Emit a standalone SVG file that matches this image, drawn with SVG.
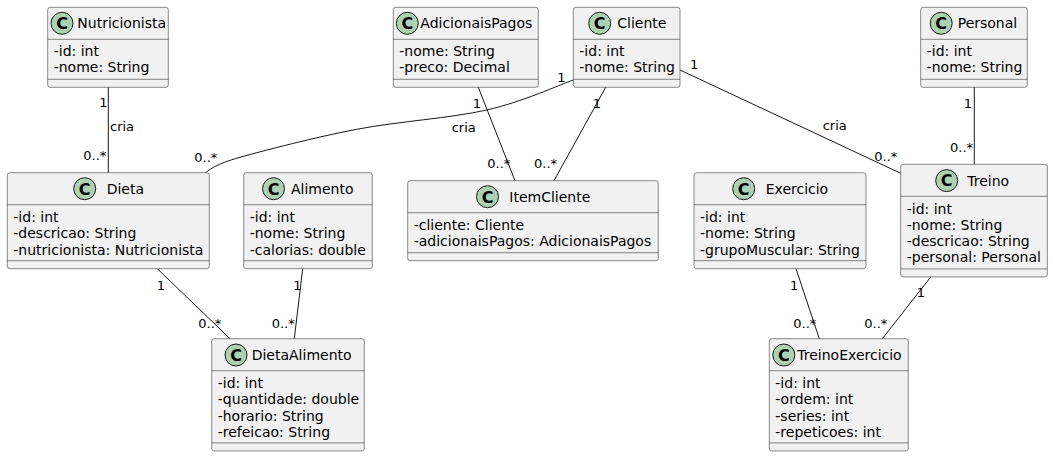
<svg xmlns="http://www.w3.org/2000/svg" width="1053" height="457" viewBox="0 0 1053 457">
<style>
.bg{fill:#FFFFFF}
.box{fill:#F1F1F1;stroke:#181818;stroke-width:0.5}
.sep{stroke:#181818;stroke-width:0.5}
.ic{fill:#ADD1B2;stroke:#181818;stroke-width:1}
.icl{font-family:"DejaVu Sans",sans-serif;font-size:16px;font-weight:bold;fill:#000000;text-anchor:middle}
.nm{font-family:"DejaVu Sans",sans-serif;font-size:14px;fill:#000000}
.at{font-family:"DejaVu Sans",sans-serif;font-size:14px;fill:#000000}
.lb{font-family:"DejaVu Sans",sans-serif;font-size:13px;fill:#000000}
.cn{fill:none;stroke:#181818;stroke-width:1}
</style>
<rect class="bg" x="0" y="0" width="1053" height="457"/>

<g id="connectors">
<path class="cn" d="M108.3,87.3 L108.3,172.7"/>
<path class="cn" d="M573.3,80 C558.9,85 522.8,101.8 486.7,110 C450.6,118.2 397.8,121.4 356.7,129.3 C315.6,137.2 265.3,150.2 240,157.3 C214.7,164.4 210.8,169.3 205.3,172.7"/>
<path class="cn" d="M680,70 L900.7,173.3"/>
<path class="cn" d="M974.3,87.3 L974.3,164.3"/>
<path class="cn" d="M478.3,87.3 L515,180.7"/>
<path class="cn" d="M605.7,87.3 L554,180.7"/>
<path class="cn" d="M157.3,268.7 L230,338.7"/>
<path class="cn" d="M302.7,268.7 L294.3,338.7"/>
<path class="cn" d="M796,268.7 L819.3,338.7"/>
<path class="cn" d="M930.7,277 L882.3,338.7"/>
<text class="lb" x="99.3" y="107.3">1</text>
<text class="lb" x="110" y="131">cria</text>
<text class="lb" x="83.3" y="160">0..*</text>
<text class="lb" x="557.3" y="81.7">1</text>
<text class="lb" x="451.7" y="132">cria</text>
<text class="lb" x="194.3" y="161.7">0..*</text>
<text class="lb" x="690" y="69.3">1</text>
<text class="lb" x="822.7" y="130">cria</text>
<text class="lb" x="874.3" y="161">0..*</text>
<text class="lb" x="963.7" y="108.3">1</text>
<text class="lb" x="950" y="151.7">0..*</text>
<text class="lb" x="472.7" y="107.7">1</text>
<text class="lb" x="487.3" y="168.3">0..*</text>
<text class="lb" x="592.7" y="107.7">1</text>
<text class="lb" x="534" y="168.3">0..*</text>
<text class="lb" x="156.7" y="290">1</text>
<text class="lb" x="198.3" y="328.3">0..*</text>
<text class="lb" x="293.3" y="290">1</text>
<text class="lb" x="271.7" y="328.3">0..*</text>
<text class="lb" x="790" y="290">1</text>
<text class="lb" x="793.3" y="328">0..*</text>
<text class="lb" x="916.7" y="297.3">1</text>
<text class="lb" x="864.3" y="328">0..*</text>
</g>

<g id="Nutricionista">
<rect class="box" x="47.7" y="7.3" width="120.6" height="80" rx="2.5"/>
<circle class="ic" cx="62" cy="23.3" r="11"/><text class="icl" x="62" y="29.1">C</text>
<text class="nm" x="77.3" y="28.3">Nutricionista</text>
<line class="sep" x1="47.7" y1="39.3" x2="168.3" y2="39.3"/>
<text class="at" x="53.7" y="56.1">-id: int</text>
<text class="at" x="53.7" y="72.4">-nome: String</text>
<line class="sep" x1="47.7" y1="79.3" x2="168.3" y2="79.3"/>
</g>

<g id="AdicionaisPagos">
<rect class="box" x="393.3" y="7.3" width="145" height="80" rx="2.5"/>
<circle class="ic" cx="407.3" cy="23.3" r="11"/><text class="icl" x="407.3" y="29.1">C</text>
<text class="nm" x="420.3" y="28.3">AdicionaisPagos</text>
<line class="sep" x1="393.3" y1="39.3" x2="538.3" y2="39.3"/>
<text class="at" x="399.3" y="56.1">-nome: String</text>
<text class="at" x="399.3" y="72.4">-preco: Decimal</text>
<line class="sep" x1="393.3" y1="79.3" x2="538.3" y2="79.3"/>
</g>

<g id="Cliente">
<rect class="box" x="573.3" y="7.3" width="106.7" height="80" rx="2.5"/>
<circle class="ic" cx="599.7" cy="23.3" r="11"/><text class="icl" x="599.7" y="29.1">C</text>
<text class="nm" x="617.3" y="28.3">Cliente</text>
<line class="sep" x1="573.3" y1="39.3" x2="680" y2="39.3"/>
<text class="at" x="579.3" y="56.1">-id: int</text>
<text class="at" x="579.3" y="72.4">-nome: String</text>
<line class="sep" x1="573.3" y1="79.3" x2="680" y2="79.3"/>
</g>

<g id="Personal">
<rect class="box" x="920.7" y="7.3" width="106.6" height="80" rx="2.5"/>
<circle class="ic" cx="941.2" cy="23.3" r="11"/><text class="icl" x="941.2" y="29.1">C</text>
<text class="nm" x="957.7" y="28.3">Personal</text>
<line class="sep" x1="920.7" y1="39.3" x2="1027.3" y2="39.3"/>
<text class="at" x="926.7" y="56.1">-id: int</text>
<text class="at" x="926.7" y="72.4">-nome: String</text>
<line class="sep" x1="920.7" y1="79.3" x2="1027.3" y2="79.3"/>
</g>

<g id="Dieta">
<rect class="box" x="7.3" y="172.7" width="202" height="96" rx="2.5"/>
<circle class="ic" cx="84.7" cy="188.7" r="11"/><text class="icl" x="84.7" y="194.5">C</text>
<text class="nm" x="106.7" y="193.7">Dieta</text>
<line class="sep" x1="7.3" y1="204.7" x2="209.3" y2="204.7"/>
<text class="at" x="13.3" y="221.9">-id: int</text>
<text class="at" x="13.3" y="238.2">-descricao: String</text>
<text class="at" x="13.3" y="254.5">-nutricionista: Nutricionista</text>
<line class="sep" x1="7.3" y1="260.7" x2="209.3" y2="260.7"/>
</g>

<g id="Alimento">
<rect class="box" x="243.7" y="172.7" width="128.6" height="96" rx="2.5"/>
<circle class="ic" cx="273.5" cy="188.7" r="11"/><text class="icl" x="273.5" y="194.5">C</text>
<text class="nm" x="291" y="193.7">Alimento</text>
<line class="sep" x1="243.7" y1="204.7" x2="372.3" y2="204.7"/>
<text class="at" x="249.7" y="221.9">-id: int</text>
<text class="at" x="249.7" y="238.2">-nome: String</text>
<text class="at" x="249.7" y="254.5">-calorias: double</text>
<line class="sep" x1="243.7" y1="260.7" x2="372.3" y2="260.7"/>
</g>

<g id="ItemCliente">
<rect class="box" x="407.7" y="180.7" width="250.6" height="80" rx="2.5"/>
<circle class="ic" cx="487.5" cy="196.7" r="11"/><text class="icl" x="487.5" y="202.5">C</text>
<text class="nm" x="509.3" y="201.7">ItemCliente</text>
<line class="sep" x1="407.7" y1="212.7" x2="658.3" y2="212.7"/>
<text class="at" x="413.7" y="229.5">-cliente: Cliente</text>
<text class="at" x="413.7" y="245.8">-adicionaisPagos: AdicionaisPagos</text>
<line class="sep" x1="407.7" y1="252.7" x2="658.3" y2="252.7"/>
</g>

<g id="Exercicio">
<rect class="box" x="694" y="172.7" width="172" height="96" rx="2.5"/>
<circle class="ic" cx="743.7" cy="188.7" r="11"/><text class="icl" x="743.7" y="194.5">C</text>
<text class="nm" x="765.7" y="193.7">Exercicio</text>
<line class="sep" x1="694" y1="204.7" x2="866" y2="204.7"/>
<text class="at" x="700" y="221.9">-id: int</text>
<text class="at" x="700" y="238.2">-nome: String</text>
<text class="at" x="700" y="254.5">-grupoMuscular: String</text>
<line class="sep" x1="694" y1="260.7" x2="866" y2="260.7"/>
</g>

<g id="Treino">
<rect class="box" x="900.7" y="164.3" width="146.6" height="112.6" rx="2.5"/>
<circle class="ic" cx="946.7" cy="180.6" r="11"/><text class="icl" x="946.7" y="186.4">C</text>
<text class="nm" x="967.3" y="185.5">Treino</text>
<line class="sep" x1="900.7" y1="196.3" x2="1047.3" y2="196.3"/>
<text class="at" x="906.7" y="213.5">-id: int</text>
<text class="at" x="906.7" y="229.8">-nome: String</text>
<text class="at" x="906.7" y="246.1">-descricao: String</text>
<text class="at" x="906.7" y="262.4">-personal: Personal</text>
<line class="sep" x1="900.7" y1="268.9" x2="1047.3" y2="268.9"/>
</g>

<g id="DietaAlimento">
<rect class="box" x="211.7" y="338.7" width="152.6" height="112.3" rx="2.5"/>
<circle class="ic" cx="236" cy="355" r="11"/><text class="icl" x="236" y="360.8">C</text>
<text class="nm" x="251.7" y="359.8">DietaAlimento</text>
<line class="sep" x1="211.7" y1="370.7" x2="364.3" y2="370.7"/>
<text class="at" x="217.7" y="387.9">-id: int</text>
<text class="at" x="217.7" y="404.2">-quantidade: double</text>
<text class="at" x="217.7" y="420.5">-horario: String</text>
<text class="at" x="217.7" y="436.8">-refeicao: String</text>
<line class="sep" x1="211.7" y1="442.9" x2="364.3" y2="442.9"/>
</g>

<g id="TreinoExercicio">
<rect class="box" x="769.3" y="338.7" width="139" height="112.3" rx="2.5"/>
<circle class="ic" cx="783.8" cy="355" r="11"/><text class="icl" x="783.8" y="360.8">C</text>
<text class="nm" x="797.3" y="359.8">TreinoExercicio</text>
<line class="sep" x1="769.3" y1="370.7" x2="908.3" y2="370.7"/>
<text class="at" x="775.3" y="387.9">-id: int</text>
<text class="at" x="775.3" y="404.2">-ordem: int</text>
<text class="at" x="775.3" y="420.5">-series: int</text>
<text class="at" x="775.3" y="436.8">-repeticoes: int</text>
<line class="sep" x1="769.3" y1="442.9" x2="908.3" y2="442.9"/>
</g>
</svg>
